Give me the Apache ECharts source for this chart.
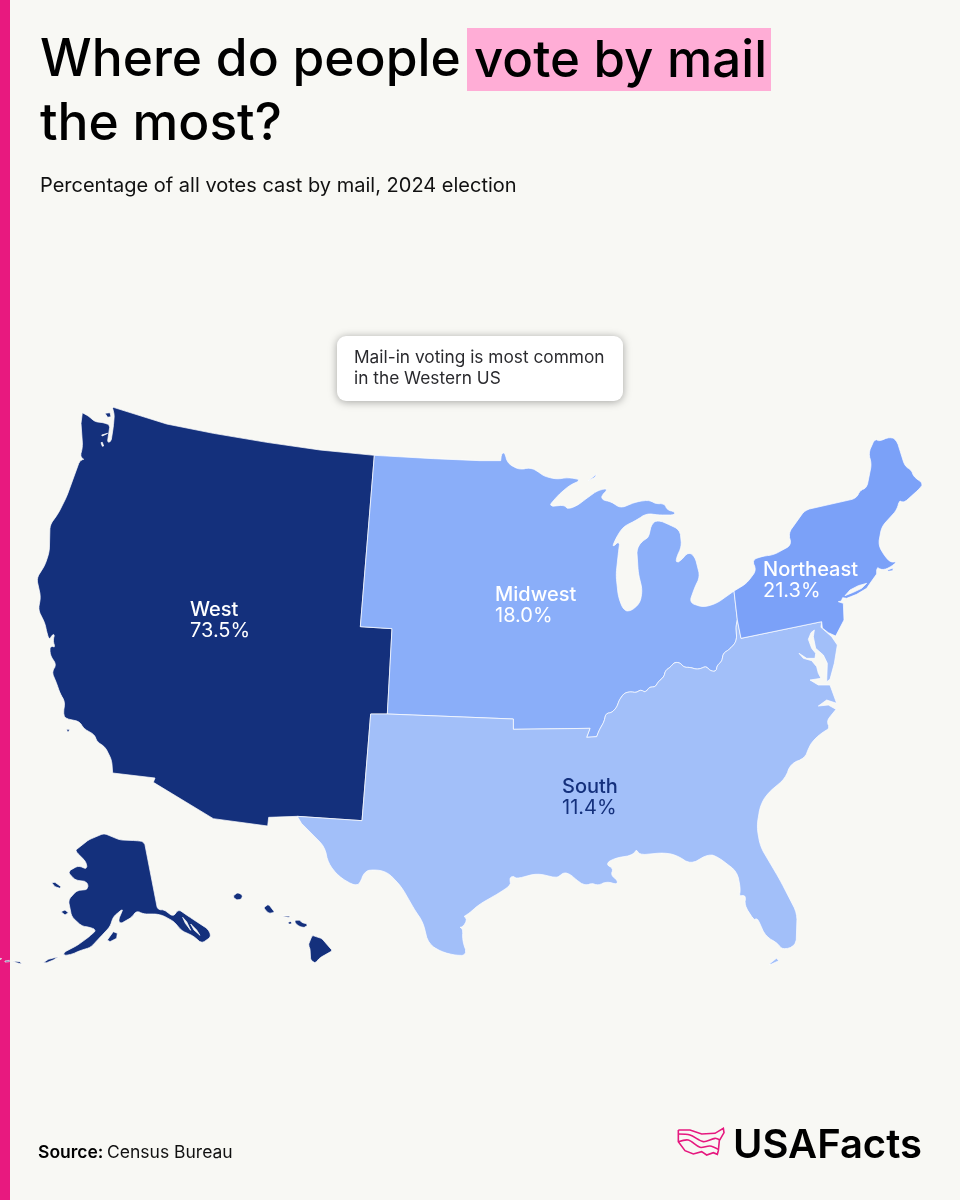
<!DOCTYPE html>
<html>
<head>
<meta charset="utf-8">
<title>Where do people vote by mail the most?</title>
<script src="https://cdn.jsdelivr.net/npm/echarts@6/dist/echarts.min.js"></script>
<style>
html, body { margin: 0; padding: 0; background: #f8f8f4; }
#chart { width: 960px; height: 1200px; }
</style>
</head>
<body>
<div id="chart"></div>
<script>
// chart values
var regions = ['West', 'Midwest', 'South', 'Northeast'];
var mailShare = [73.5, 18.0, 11.4, 21.3];

var regionColors = ['#14307c', '#8aaef9', '#a2bff9', '#7ba1f8'];
var labelColors = ['#ffffff', '#ffffff', '#14307c', '#ffffff'];
// left edge of each label, the block is 100 wide and centred on its anchor
var labelAnchors = [[240, 620], [545, 605.5], [612, 797], [813, 580]];

// outlines, no basemap is available offline.
// each helper turns traced points to page pixels
function a(p) { return p.map(function (q) { return [q[0] / 3, 400 + q[1] / 3]; }); }
function b(p) { return p.map(function (q) { return [480 + q[0] / 3, 420 + q[1] / 3]; }); }
function c(p) { return p.map(function (q) { return [280 + q[0] / 2.8, 680 + q[1] / 3]; }); }
function d(p) { return p.map(function (q) { return [q[0] / 3, 820 + q[1] / 3]; }); }
function wa(p) { return p.map(function (q) { return [75 + q[0] / 3, 400 + q[1] / 3]; }); }
function ny(p) { return p.map(function (q) { return [830 + q[0] / 3, 555 + q[1] / 3]; }); }
function md(p) { return p.map(function (q) { return [795 + q[0] / 3, 620 + q[1] / 3]; }); }

// rounds the corners of a traced coast, ends stay put
function soft(p, r) {
	r = r || 3;
	for (var pass = 0; pass < 2; pass++) {
		var out = [p[0]];
		for (var i = 1; i < p.length - 1; i++) {
			out.push(cut(p[i], p[i - 1], r), cut(p[i], p[i + 1], r));
		}
		out.push(p[p.length - 1]);
		p = out;
		r = r / 2;
	}
	return p;
}
function cut(from, to, r) {
	var dx = to[0] - from[0], dy = to[1] - from[1];
	var len = Math.sqrt(dx * dx + dy * dy) || 1;
	var t = Math.min(0.3, r / len);
	return [from[0] + dx * t, from[1] + dy * t];
}
function softRing(p, r) {
	var s = soft(p.concat([p[0], p[1]]), r);
	return s.slice(2, s.length - 2);
}

var westTop = a([[340,22],[500,72],[640,100],[800,127],[960,150],[1123,166]]);
var westMidwest = a([[1123,166],[1108,350],[1081,680],[1176,686],[1162,942]]);
var westSouth = a([[1162,942],[1112,942],[1086,1262],[892,1249]]);
var southwestLine = a([[806,1252],[803,1278],[640,1256],[460,1147],[465,1134],[338,1119]]);
var westCoast = soft(a([[338,1119],[335,1080],[315,1040],[290,1025],[285,1005],[250,985],[240,965],[195,955],[190,940],[195,905],[180,880],[170,850],[155,815],[170,795],[150,765],[150,735],[167,745],[158,722],[165,702],[155,705],[148,722],[140,695],[135,670],[115,630],[122,590],[110,535],[135,495],[148,455],[150,375],[175,340],[200,290],[240,180],[256,178],[240,172],[248,140],[243,70]]), 2.5);
var washington = soft(wa([[22,38],[40,48],[60,65],[85,68],[105,75],[97,128],[108,125],[115,80],[118,45],[113,25]]), 1.5);

var midwestLine = b([[100,897],[100,928],[330,925],[320,952],[350,950]]);
var ohioRiver = soft(b([[350,950],[358,930],[372,905],[378,880],[395,878],[410,862],[418,840],[432,820],[450,815],[470,818],[482,808],[495,818],[510,800],[525,802],[535,785],[552,770],[556,752],[575,738],[582,727],[600,728],[612,742],[630,742],[650,748],[665,745],[678,738],[690,752],[708,755],[712,735],[725,725],[730,700],[748,688],[765,670],[770,655],[768,620],[772,600]]), 1.5);
var midwestSouth = midwestLine.concat(ohioRiver.slice(1));
var midwestTop = a([[1300,176],[1440,182]]).concat(b([[62,122]]));
var lakesCoast = soft(b([[62,122],[65,98],[75,98],[82,130],[120,150],[150,142],[175,155],[190,168],[230,178],[265,172],[305,180],[270,195],[235,225],[205,260],[255,255],[260,268],[290,258],[320,235],[355,210],[388,205],[365,225],[365,240],[395,245],[420,265],[470,245],[510,240],[525,252],[555,250],[560,270],[585,275],[585,285],[535,285],[500,280],[470,300],[430,320],[410,350],[395,385],[420,360],[415,400],[408,465],[415,530],[430,570],[450,575],[480,550],[487,510],[475,460],[470,385],[490,360],[505,355],[515,310],[535,300],[570,315],[600,330],[605,380],[590,410],[588,430],[605,420],[625,395],[645,410],[660,470],[645,500],[628,548],[670,562],[710,550],[762,513]]), 3);
var isleRoyale = b([[325,182],[350,162],[345,172]]);

var northeastCoast = soft(b([[762,513],[800,490],[830,450],[815,420],[850,408],[880,405],[935,375],[925,340],[975,270],[1130,235],[1140,210],[1160,205],[1175,130],[1165,100],[1185,55],[1195,65],[1230,50],[1250,60],[1275,140],[1295,150],[1300,170],[1330,190],[1320,205],[1270,250],[1258,238],[1252,268],[1205,320],[1195,375],[1215,410],[1235,430],[1255,420],[1235,440],[1205,452],[1190,438],[1190,462]]), 3);
var longIslandCoast = ny([[125,78],[110,100],[80,118],[50,130],[38,128],[34,138],[25,140]]);
var jersey = b([[1090,550],[1092,600]]).concat(md([[122,48],[100,38],[82,24]]));
var northeastTip = md([[80,5]]);
var panhandle = b([[783,655]]);
var soundHole = ny([[45,122],[60,105],[85,92],[110,85],[95,100],[70,112]]);
var capeIslands = b([[1222,450],[1240,444],[1238,452],[1224,454]]);

var chesapeake = md([[78,22],[110,50],[127,75],[118,130],[105,178],[95,185],[97,130],[85,105],[62,85],[55,50],[58,30],[48,38],[40,58],[50,85],[62,100],[60,115],[35,115],[12,100],[25,115],[50,122],[65,140],[70,160],[78,175],[45,180],[70,195],[105,195],[125,250],[95,240],[70,258],[100,255],[123,268]]);
var southCoast = soft(b([[1050,890],[1040,905],[1050,925],[1030,935],[1000,960],[985,985],[975,1015]]).concat(c([[1430,250],[1415,295],[1365,340],[1345,375],[1335,440],[1345,500],[1400,600],[1448,700],[1445,798],[1405,810],[1395,790],[1360,770],[1335,710],[1330,725],[1300,675],[1305,650],[1295,645],[1285,650],[1290,630],[1280,575],[1225,530],[1200,522],[1150,553],[1110,525],[1075,518],[1005,525],[998,505],[990,525],[935,535],[910,553],[935,565],[925,585],[945,600],[945,615],[915,603],[890,618],[875,608],[855,618],[830,600],[810,580],[790,578],[780,595],[720,580],[660,597],[655,587],[640,595],[650,612],[620,635],[555,675],[530,700],[510,712],[525,712],[515,740],[500,742],[513,745],[510,780],[525,825],[495,827],[450,815],[415,790],[400,725],[380,695],[340,620],[300,575],[260,568],[235,575],[225,610],[210,618],[165,590],[135,550],[125,500],[60,430]])), 4);
var keys = c([[1370,852],[1390,835],[1397,842],[1375,853]]);

var alaska = softRing(d([[228,88],[265,60],[312,40],[360,60],[410,62],[433,65],[473,270],[490,268],[520,290],[535,268],[570,292],[625,328],[634,350],[605,370],[580,348],[545,332],[522,305],[490,287],[470,282],[430,282],[410,272],[395,292],[360,312],[355,300],[370,265],[340,290],[330,320],[300,352],[272,382],[240,392],[215,403],[192,407],[190,398],[232,376],[265,352],[290,330],[270,322],[245,318],[215,290],[205,240],[230,212],[265,208],[262,185],[225,180],[203,155],[235,137],[262,148],[258,125],[228,95]]), 2);
var alaskaSlitA = d([[548,292],[560,305],[575,330],[572,331],[556,310]]);
var alaskaSlitB = d([[572,312],[590,330],[603,345],[600,346],[582,330]]);
var alaskaIslands = [
	[[155,188],[165,187],[183,200],[180,205],[165,200]],
	[[183,275],[195,270],[205,278],[195,285]],
	[[322,360],[340,335],[352,340],[350,355],[330,365]],
	[[130,428],[145,418],[175,410],[160,420],[140,428]],
	[[40,423],[60,425],[65,432],[50,428]],
	[[15,423],[28,421],[28,425],[15,426]],
	[[0,415],[5,416],[5,419],[0,419]]
].map(d);
var hawaii = [
	[[698,228],[712,217],[728,225],[725,238],[708,240]],
	[[790,262],[805,252],[825,278],[805,280]],
	[[848,285],[872,288],[870,292],[850,290]],
	[[862,305],[875,303],[875,313],[867,313]],
	[[885,298],[900,300],[905,308],[925,312],[915,323],[900,320],[885,310]],
	[[937,345],[965,355],[998,393],[960,413],[945,430],[932,420],[930,385],[925,375]]
].map(d).map(function (r) { return softRing(r, 1.2); });
var sanJuan = wa([[90,40],[105,38],[108,50],[98,52]]);
var pugetSlitA = wa([[80,105],[100,97],[98,100],[82,108]]);
var pugetSlitB = wa([[78,128],[82,127],[86,138],[82,139]]);
var channelIsland = a([[200,988],[208,988],[207,995],[202,995]]);

function rev(p) { return p.slice().reverse(); }
function closed(p) { return p.concat([p[0]]); }
function area(p) {
	var s = 0;
	for (var i = 0; i < p.length; i++) {
		var n = p[(i + 1) % p.length];
		s += p[i][0] * n[1] - n[0] * p[i][1];
	}
	return s;
}
// holes must wind against their ring or the canvas fills them
function wind(p, sign) { return area(p) * sign < 0 ? rev(p) : p; }

var westRing = westTop.concat(westMidwest.slice(1), westSouth.slice(1), southwestLine, westCoast.slice(1), washington);
var midwestRing = [westMidwest[0]].concat(midwestTop, lakesCoast.slice(1), rev(midwestSouth), rev(westMidwest));
var southRing = [westMidwest[4]].concat(midwestSouth, panhandle, northeastTip, chesapeake, southCoast, rev(westSouth));
var northeastRing = northeastCoast.concat(longIslandCoast, jersey, northeastTip, panhandle, [midwestSouth[midwestSouth.length - 1]]);

var shapes = [
	[[westRing, pugetSlitA, pugetSlitB]].concat([[sanJuan], [channelIsland], [alaska, alaskaSlitA, alaskaSlitB]], alaskaIslands.map(function (r) { return [r]; }), hawaii.map(function (r) { return [r]; })),
	[[midwestRing], [isleRoyale]],
	[[southRing], [keys]],
	[[northeastRing, soundHole], [capeIslands]]
];

var usRegions = {
	type: 'FeatureCollection',
	features: regions.map(function (name, i) {
		return {
			type: 'Feature',
			properties: { name: name, cp: [labelAnchors[i][0], -labelAnchors[i][1]] },
			geometry: {
				type: 'MultiPolygon',
				coordinates: shapes[i].map(function (poly) {
					return poly.map(function (ring, k) {
						return closed(wind(ring, k === 0 ? 1 : -1)).map(function (q) { return [q[0], -q[1]]; });
					});
				})
			}
		};
	})
};

var logoOutline = [[55,60],[90,60],[125,72],[165,70],[190,55],[192,68],[178,92],[175,122],[172,133],[160,128],[140,135],[125,125],[100,132],[75,122],[55,95],[55,60]];
var logoWaveA = [[55,72],[90,75],[130,95],[165,85],[180,90]];
var logoWaveB = [[55,95],[85,90],[120,112],[150,108],[175,118]];
function logo(p) { return p.map(function (q) { return [660 + q[0] / 3, 1110 + q[1] / 3]; }); }

function Chart(dom) {
	var font = 'Inter';
	var chart = echarts.init(dom);
	echarts.registerMap('usRegions', usRegions);

	var option = {
		backgroundColor: '#f8f8f4',
		animation: false,
		graphic: { elements: [
			{ type: 'rect', shape: { x: 0, y: 0, width: 10, height: 1200 }, style: { fill: '#e8197f' } },
			{ type: 'rect', shape: { x: 467, y: 28, width: 304, height: 63 }, style: { fill: '#ffadd6' } },
			{ type: 'text', x: 40, y: 87, style: { text: 'Where do people', font: '500 51.5px ' + font, fill: '#000', textVerticalAlign: 'bottom' } },
			{ type: 'text', x: 474, y: 87, style: { text: 'vote by mail', font: '500 51px ' + font, fill: '#000', textVerticalAlign: 'bottom' } },
			{ type: 'text', x: 40, y: 151, style: { text: 'the most?', font: '500 51.5px ' + font, fill: '#000', textVerticalAlign: 'bottom' } },
			{ type: 'text', x: 40, y: 186, style: { text: 'Percentage of all votes cast by mail, 2024 election', font: '400 20px ' + font, fill: '#111', textVerticalAlign: 'middle' } },
			{ type: 'rect', z: 10, shape: { x: 337, y: 336, width: 286, height: 65, r: 9 }, style: { fill: '#fff', shadowBlur: 8, shadowColor: 'rgba(0,0,0,0.35)', shadowOffsetY: 1 } },
			{ type: 'text', z: 11, x: 354, y: 358, style: { text: 'Mail-in voting is most common', font: '400 17.3px ' + font, fill: '#2a2a2e', textVerticalAlign: 'middle' } },
			{ type: 'text', z: 11, x: 354, y: 379, style: { text: 'in the Western US', font: '400 17.3px ' + font, fill: '#2a2a2e', textVerticalAlign: 'middle' } },
			{ type: 'text', x: 38, y: 1153, style: { text: 'Source:', font: '600 17.5px ' + font, fill: '#000', textVerticalAlign: 'middle' } },
			{ type: 'text', x: 107, y: 1153, style: { text: 'Census Bureau', font: '400 17.5px ' + font, fill: '#111', textVerticalAlign: 'middle' } },
			{ type: 'polyline', shape: { points: logo(logoOutline) }, style: { fill: 'none', stroke: '#e6197f', lineWidth: 1.6 } },
			{ type: 'polyline', shape: { points: logo(logoWaveA), smooth: 0.3 }, style: { fill: 'none', stroke: '#e6197f', lineWidth: 1.6 } },
			{ type: 'polyline', shape: { points: logo(logoWaveB), smooth: 0.3 }, style: { fill: 'none', stroke: '#e6197f', lineWidth: 1.6 } },
			{ type: 'text', x: 733, y: 1146, style: { text: 'USAFacts', font: '600 40px ' + font, fill: '#000', textVerticalAlign: 'middle' } }
		] },
		series: [{
			type: 'map',
			map: 'usRegions',
			left: 0,
			top: 0,
			width: 960,
			height: 1200,
			aspectScale: 1,
			boundingCoords: [[0, 0], [960, -1200]],
			roam: false,
			silent: true,
			selectedMode: false,
			itemStyle: { borderColor: '#ffffff', borderWidth: 0.7 },
			label: {
				show: true,
				formatter: function (p) {
					return '{n|' + p.name + '}\n{v|' + p.value.toFixed(1) + '%}';
				},
				rich: {
					n: { fontFamily: font, fontSize: 20, fontWeight: 500, lineHeight: 21, width: 100, align: 'left' },
					v: { fontFamily: font, fontSize: 20, fontWeight: 400, lineHeight: 21, width: 100, align: 'left' }
				}
			},
			data: regions.map(function (name, i) {
				return {
					name: name,
					value: mailShare[i],
					itemStyle: { areaColor: regionColors[i] },
					label: { color: labelColors[i] }
				};
			})
		}]
	};
	chart.setOption(option);
}

Chart(document.getElementById('chart'));
</script>
</body>
</html>
